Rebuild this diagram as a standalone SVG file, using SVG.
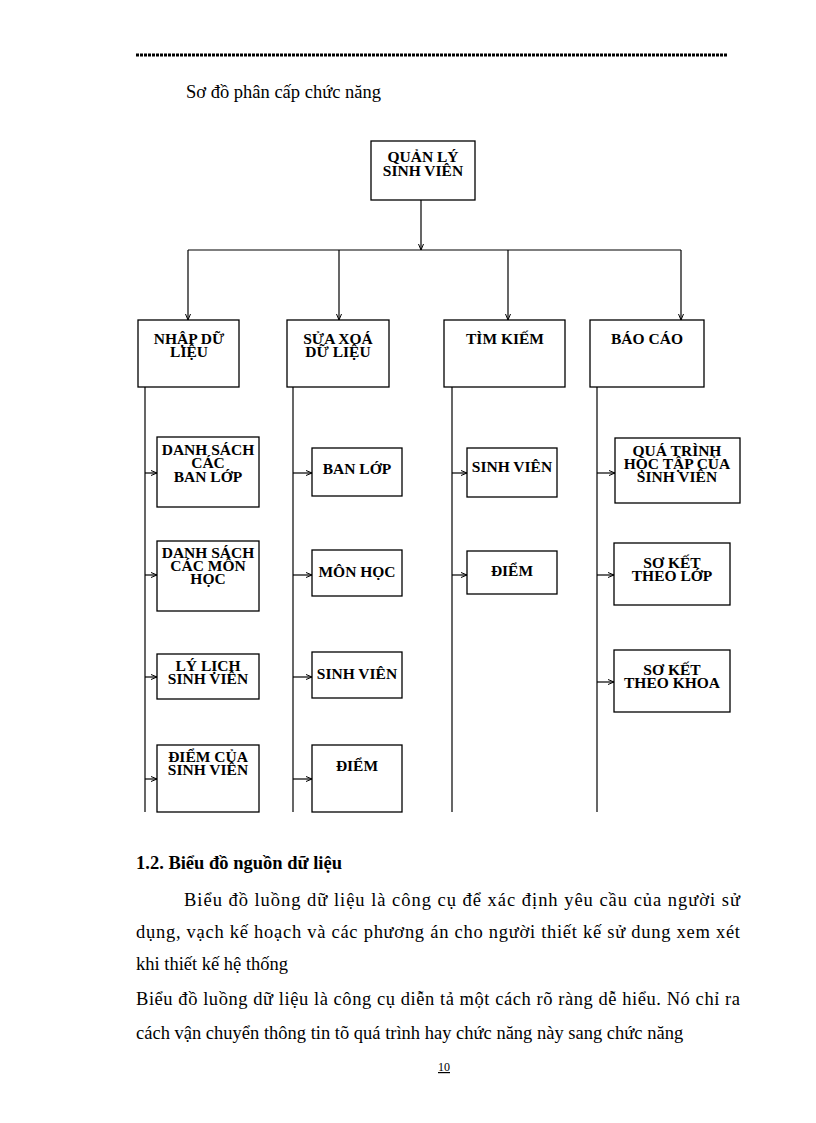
<svg xmlns="http://www.w3.org/2000/svg" width="816" height="1123" viewBox="0 0 816 1123">
<style>
.b{fill:#fff;stroke:#000;stroke-width:1.3}
.t{font-family:"Liberation Serif",serif;font-size:15.5px;font-weight:bold;text-anchor:middle}
.c{stroke:#000;stroke-width:1.2;fill:none}
.p{font-family:"Liberation Serif",serif;font-size:18.5px}
</style>
<defs><marker id="a" markerWidth="6" markerHeight="6" refX="6" refY="3" orient="auto" markerUnits="userSpaceOnUse"><path d="M0,0.5L6,3L0,5.5" fill="none" stroke="#000" stroke-width="1"/></marker></defs>
<rect width="816" height="1123" fill="#fff"/>
<line x1="136" y1="55" x2="728" y2="55" stroke="#000" stroke-width="3" stroke-dasharray="3,1"/>
<text class="p" x="186" y="98" font-size="18">Sơ đồ phân cấp chức năng</text>
<g id="connectors" class="c">
<path d="M421,200V250" marker-end="url(#a)"/>
<path d="M188,250H681"/>
<path d="M188,250V320" marker-end="url(#a)"/><path d="M339,250V320" marker-end="url(#a)"/><path d="M508,250V320" marker-end="url(#a)"/><path d="M681,250V320" marker-end="url(#a)"/>
<path d="M145,387V812"/><path d="M293,387V812"/><path d="M452,387V812"/><path d="M597,387V812"/>
<path d="M145,473H157" marker-end="url(#a)"/><path d="M145,575H157" marker-end="url(#a)"/><path d="M145,677H157" marker-end="url(#a)"/><path d="M145,779H157" marker-end="url(#a)"/>
<path d="M293,473H312" marker-end="url(#a)"/><path d="M293,575H312" marker-end="url(#a)"/><path d="M293,677H312" marker-end="url(#a)"/><path d="M293,779H312" marker-end="url(#a)"/>
<path d="M452,473H467" marker-end="url(#a)"/><path d="M452,575H467" marker-end="url(#a)"/>
<path d="M597,473H615" marker-end="url(#a)"/><path d="M597,575H614" marker-end="url(#a)"/><path d="M597,682H614" marker-end="url(#a)"/>
</g>
<g id="root"><rect class="b" x="371" y="141" width="104" height="59"/><text class="t" x="423" y="162">QUẢN LÝ</text><text class="t" x="423" y="176">SINH VIÊN</text></g>
<g id="n1"><rect class="b" x="138" y="320" width="101" height="67"/><text class="t" x="189" y="344">NHẬP DỮ</text><text class="t" x="189" y="357">LIỆU</text></g>
<g id="n2"><rect class="b" x="287" y="320" width="102" height="67"/><text class="t" x="338" y="344">SỬA XOÁ</text><text class="t" x="338" y="357">DỮ LIỆU</text></g>
<g id="n3"><rect class="b" x="444" y="320" width="121" height="67"/><text class="t" x="505" y="344">TÌM KIẾM</text></g>
<g id="n4"><rect class="b" x="590" y="320" width="114" height="67"/><text class="t" x="647" y="344">BÁO CÁO</text></g>
<g id="c11"><rect class="b" x="157" y="437" width="102" height="70"/><text class="t" x="208" y="455">DANH SÁCH</text><text class="t" x="208" y="468">CÁC</text><text class="t" x="208" y="482">BAN LỚP</text></g>
<g id="c12"><rect class="b" x="157" y="541" width="102" height="70"/><text class="t" x="208" y="558">DANH SÁCH</text><text class="t" x="208" y="571">CÁC MÔN</text><text class="t" x="208" y="584">HỌC</text></g>
<g id="c13"><rect class="b" x="157" y="654" width="102" height="45"/><text class="t" x="208" y="671">LÝ LỊCH</text><text class="t" x="208" y="684">SINH VIÊN</text></g>
<g id="c14"><rect class="b" x="157" y="745" width="102" height="67"/><text class="t" x="208" y="762">ĐIỂM CỦA</text><text class="t" x="208" y="775">SINH VIÊN</text></g>
<g id="c21"><rect class="b" x="312" y="448" width="90" height="48"/><text class="t" x="357" y="474">BAN LỚP</text></g>
<g id="c22"><rect class="b" x="312" y="550" width="90" height="46"/><text class="t" x="357" y="577">MÔN HỌC</text></g>
<g id="c23"><rect class="b" x="312" y="652" width="90" height="46"/><text class="t" x="357" y="679">SINH VIÊN</text></g>
<g id="c24"><rect class="b" x="312" y="745" width="90" height="67"/><text class="t" x="357" y="771">ĐIỂM</text></g>
<g id="c31"><rect class="b" x="467" y="448" width="90" height="49"/><text class="t" x="512" y="472">SINH VIÊN</text></g>
<g id="c32"><rect class="b" x="467" y="551" width="90" height="43"/><text class="t" x="512" y="576">ĐIỂM</text></g>
<g id="c41"><rect class="b" x="615" y="438" width="125" height="65"/><text class="t" x="677" y="456">QUÁ TRÌNH</text><text class="t" x="677" y="469">HỌC TẬP CỦA</text><text class="t" x="677" y="482">SINH VIÊN</text></g>
<g id="c42"><rect class="b" x="614" y="543" width="116" height="62"/><text class="t" x="672" y="568">SƠ KẾT</text><text class="t" x="672" y="581">THEO LỚP</text></g>
<g id="c43"><rect class="b" x="614" y="650" width="116" height="62"/><text class="t" x="672" y="675">SƠ KẾT</text><text class="t" x="672" y="688">THEO KHOA</text></g>
<text class="p" x="136" y="869" font-weight="bold" font-size="17">1.2. Biểu đồ nguồn dữ liệu</text>
<text class="p" x="184" y="906" textLength="556" lengthAdjust="spacing">Biểu đồ luồng dữ liệu là công cụ để xác định yêu cầu của người sử</text>
<text class="p" x="136" y="938" textLength="604" lengthAdjust="spacing">dụng, vạch kế hoạch và các phương án cho người thiết kế sử dung xem xét</text>
<text class="p" x="136" y="970">khi thiết kế hệ thống</text>
<text class="p" x="136" y="1005" textLength="604" lengthAdjust="spacing">Biểu đồ luồng dữ liệu là công cụ diễn tả một cách rõ ràng dễ hiểu. Nó chỉ ra</text>
<text class="p" x="136" y="1039">cách vận chuyển thông tin tõ quá trình hay chức năng này sang chức năng</text>
<text x="444" y="1071" font-family="Liberation Serif,serif" font-size="12" text-anchor="middle" text-decoration="underline">10</text>
</svg>
